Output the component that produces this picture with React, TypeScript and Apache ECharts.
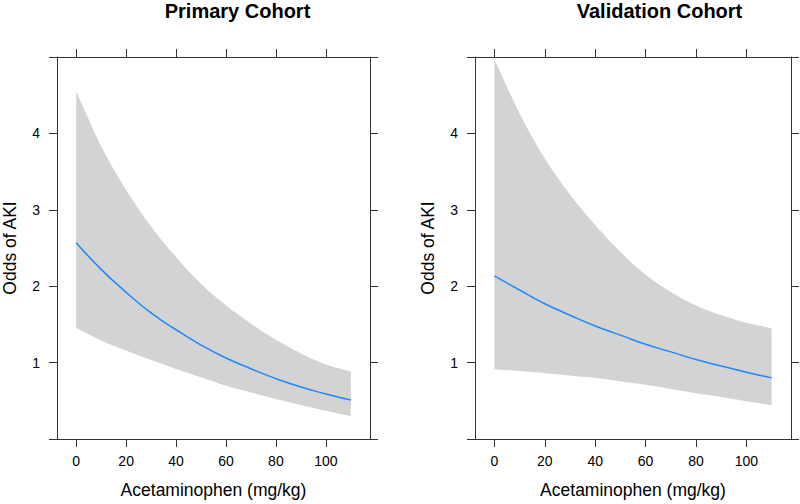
import React, { useEffect, useRef } from "react";
import * as echarts from "echarts";

const doses = [0, 10, 20, 30, 40, 50, 60, 70, 80, 90, 100, 110];
const primaryFit = [2.57, 2.22, 1.92, 1.65, 1.43, 1.23, 1.06, 0.92, 0.79, 0.68, 0.59, 0.51];
const primaryUpper = [4.55, 3.83, 3.26, 2.78, 2.38, 2.03, 1.75, 1.51, 1.3, 1.12, 0.975, 0.883];
const primaryLower = [1.453, 1.29, 1.157, 1.035, 0.917, 0.807, 0.698, 0.61, 0.523, 0.446, 0.369, 0.3];
const validationFit = [2.135, 1.95, 1.77, 1.62, 1.48, 1.36, 1.24, 1.14, 1.04, 0.955, 0.875, 0.8];
const validationUpper = [4.97, 4.26, 3.67, 3.2, 2.8, 2.45, 2.15, 1.925, 1.747, 1.62, 1.52, 1.45];
const validationLower = [0.913, 0.89, 0.862, 0.83, 0.8, 0.755, 0.71, 0.655, 0.6, 0.55, 0.495, 0.443];
const xTicks = [0, 20, 40, 60, 80, 100];
const panelTitles = ["Primary Cohort", "Validation Cohort"];
const xAxisName = "Acetaminophen (mg/kg)";
const yAxisName = "Odds of AKI";

const FONT = "'Liberation Sans', Arial, Helvetica, sans-serif";
const AXIS_COLOR = "#333333";
const BAND_COLOR = "#d3d3d3";
const LINE_COLOR = "#1e88ff";

// Catmull-Rom densification of pixel points (for a smooth band outline)
function densify(pts: number[][], steps = 8): number[][] {
  const n = pts.length;
  if (n < 3) return pts.slice();
  const tan = (i: number) => {
    const a = pts[Math.max(0, i - 1)];
    const b = pts[Math.min(n - 1, i + 1)];
    const k = i === 0 || i === n - 1 ? 1 : 0.5;
    return [(b[0] - a[0]) * k, (b[1] - a[1]) * k];
  };
  const out: number[][] = [];
  for (let i = 0; i < n - 1; i++) {
    const p0 = pts[i];
    const p1 = pts[i + 1];
    const m0 = tan(i);
    const m1 = tan(i + 1);
    for (let s = 0; s < steps; s++) {
      const t = s / steps;
      const t2 = t * t;
      const t3 = t2 * t;
      const h00 = 2 * t3 - 3 * t2 + 1;
      const h10 = t3 - 2 * t2 + t;
      const h01 = -2 * t3 + 3 * t2;
      const h11 = t3 - t2;
      out.push([
        h00 * p0[0] + h10 * m0[0] + h01 * p1[0] + h11 * m1[0],
        h00 * p0[1] + h10 * m0[1] + h01 * p1[1] + h11 * m1[1],
      ]);
    }
  }
  out.push(pts[n - 1]);
  return out;
}

export default function App() {
  const ref = useRef<HTMLDivElement>(null);

  useEffect(() => {
    if (!ref.current) return;
    const chart = echarts.init(ref.current, undefined, { renderer: "svg" });

    const panels = [
      { fit: primaryFit, upper: primaryUpper, lower: primaryLower },
      { fit: validationFit, upper: validationUpper, lower: validationLower },
    ];
    const gridLefts = [54, 475];
    const titleCenters = [237.5, 659.5];

    const grids = gridLefts.map((l) => ({ left: l, top: 57, width: 316, height: 386, containLabel: false }));

    const axisLine = { show: true, onZero: false, lineStyle: { color: AXIS_COLOR, width: 1 } };
    const tickStyle = { show: true, inside: false, length: 8, lineStyle: { color: AXIS_COLOR, width: 1 } };

    const xAxes: any[] = [];
    const yAxes: any[] = [];
    gridLefts.forEach((_, p) => {
      xAxes.push({
        type: "value",
        gridIndex: p,
        position: "bottom",
        min: -7.7,
        max: 117.7,
        splitLine: { show: false },
        axisLine,
        axisTick: { ...tickStyle, customValues: xTicks },
        axisLabel: { show: true, customValues: xTicks, margin: 15, color: "#000", fontSize: 14, fontFamily: FONT },
        name: xAxisName,
        nameLocation: "middle",
        nameGap: 42,
        nameTextStyle: { color: "#000", fontSize: 17.5, fontFamily: FONT },
      });
      xAxes.push({
        type: "value",
        gridIndex: p,
        position: "top",
        min: -7.7,
        max: 117.7,
        splitLine: { show: false },
        axisLine,
        axisTick: { ...tickStyle, customValues: xTicks },
        axisLabel: { show: false, customValues: xTicks },
      });
      yAxes.push({
        type: "value",
        gridIndex: p,
        position: "left",
        min: 0,
        max: 5,
        interval: 1,
        splitLine: { show: false },
        axisLine,
        axisTick: tickStyle,
        axisLabel: {
          show: true,
          margin: 17,
          color: "#000",
          fontSize: 14,
          fontFamily: FONT,
          formatter: (v: number) => (v === 0 || v === 5 ? "" : String(v)),
        },
        name: yAxisName,
        nameLocation: "middle",
        nameGap: 38,
        nameTextStyle: { color: "#000", fontSize: 17.5, fontFamily: FONT },
      });
      yAxes.push({
        type: "value",
        gridIndex: p,
        position: "right",
        min: 0,
        max: 5,
        interval: 1,
        splitLine: { show: false },
        axisLine,
        axisTick: tickStyle,
        axisLabel: { show: false },
      });
    });

    const series: any[] = [];
    panels.forEach((pd, p) => {
      series.push({
        type: "custom",
        xAxisIndex: p * 2,
        yAxisIndex: p * 2,
        silent: true,
        z: 1,
        data: [[0, 0]],
        renderItem: (_params: any, api: any) => {
          const up = densify(doses.map((x, i) => api.coord([x, pd.upper[i]])));
          const lo = densify(doses.map((x, i) => api.coord([x, pd.lower[i]])));
          const pts = up.concat(lo.reverse());
          return { type: "polygon", shape: { points: pts }, style: { fill: BAND_COLOR, stroke: "none" } };
        },
      });
      series.push({
        type: "line",
        xAxisIndex: p * 2,
        yAxisIndex: p * 2,
        z: 2,
        data: doses.map((x, i) => [x, pd.fit[i]]),
        showSymbol: false,
        smooth: true,
        lineStyle: { color: LINE_COLOR, width: 1.5 },
      });
    });

    const graphic = panelTitles.map((t, p) => ({
      type: "text",
      x: titleCenters[p],
      y: 11,
      style: {
        text: t,
        fill: "#000",
        font: `bold 20px ${FONT}`,
        align: "center",
        verticalAlign: "middle",
      },
    }));

    chart.setOption({
      animation: false,
      backgroundColor: "#ffffff",
      grid: grids,
      xAxis: xAxes,
      yAxis: yAxes,
      series,
      graphic,
    });

    return () => chart.dispose();
  }, []);

  return (
    <div
      ref={ref}
      style={{ position: "fixed", left: 0, top: 0, width: 800, height: 504, background: "#fff" }}
    />
  );
}
